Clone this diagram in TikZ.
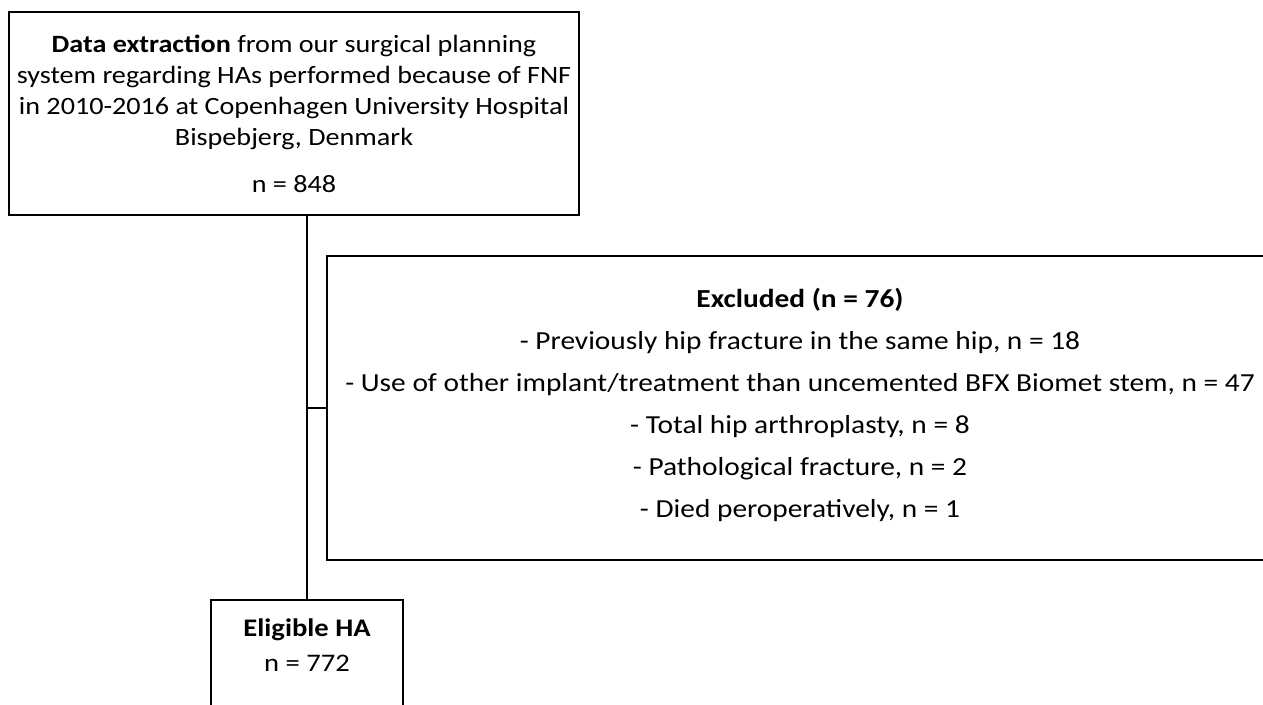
\documentclass[tikz,border=0pt]{standalone}
\usepackage{fontspec}
\setmainfont{Carlito}[FakeStretch=1.13]
\begin{document}
\begin{tikzpicture}[x=1pt,y=-1pt,
  boxst/.style={draw=black,line width=2.6pt,rectangle,inner sep=0pt},
  txt/.style={align=center,inner sep=0pt},
  conn/.style={draw=black,line width=2.8pt}]
\useasboundingbox (0,0) rectangle (1263,704);
\node[boxst,txt,font=\fontsize{24.9}{31}\selectfont,minimum width=570,minimum height=203] (top) at (294,113.5)
  {\textbf{Data extraction} from our surgical planning\\
   system regarding HAs performed because of FNF\\
   in 2010-2016 at Copenhagen University Hospital\\
   Bispebjerg, Denmark\\[16pt]
   n = 848};
\node[boxst,minimum width=946,minimum height=304] (excl) at (800,408) {};
\node[txt,font=\fontsize{26}{42}\selectfont] (excltext) at (800,405)
  {\textbf{Excluded (n = 76)}\\
   - Previously hip fracture in the same hip, n = 18\\
   - Use of other implant/treatment than uncemented BFX Biomet stem, n = 47\\
   - Total hip arthroplasty, n = 8\\
   - Pathological fracture, n = 2\\
   - Died peroperatively, n = 1};
\node[boxst,minimum width=192,minimum height=130] (elig) at (307,665) {};
\node[txt,font=\fontsize{25.3}{35}\selectfont] (eligtext) at (307,645.5)
  {\textbf{Eligible HA}\\ n = 772};
\coordinate (j) at (elig.north |- excl.west);
\draw[conn] (top.south -| elig.north) -- (elig.north);
\draw[conn] (j) -- (excl.west);
\end{tikzpicture}
\end{document}
